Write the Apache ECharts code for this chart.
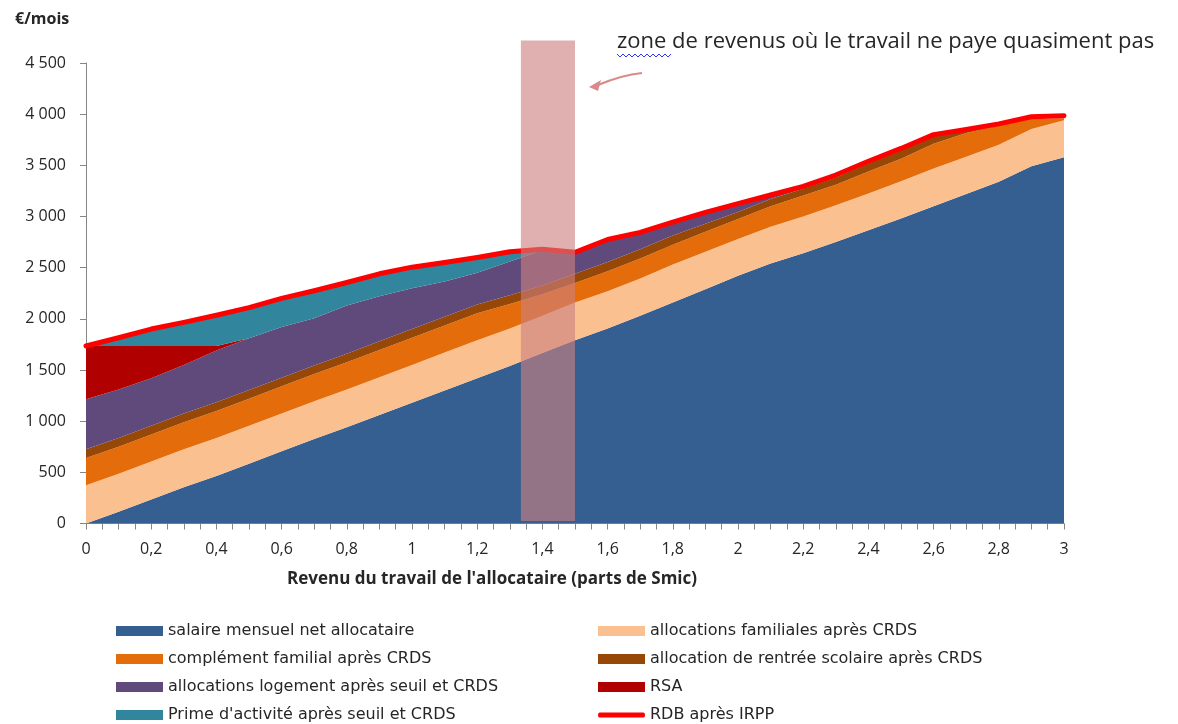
<!DOCTYPE html>
<html>
<head>
<meta charset="utf-8">
<script src="https://cdn.jsdelivr.net/npm/echarts@6/dist/echarts.min.js"></script>
<style>
html,body{margin:0;padding:0;background:#fff;}
#chart{width:1178px;height:724px;}
</style>
</head>
<body>
<div id="chart"></div>
<script>
// Revenu du travail (parts de Smic)
const revenu = [0,0.1,0.2,0.3,0.4,0.5,0.6,0.7,0.8,0.9,1.0,1.1,1.2,1.3,1.4,1.5,1.6,1.7,1.8,1.9,2.0,2.1,2.2,2.3,2.4,2.5,2.6,2.7,2.8,2.9,3.0];
const salaire   = [0,115,235,355,465,585,705,825,940,1060,1180,1300,1420,1540,1665,1790,1905,2030,2160,2290,2420,2540,2640,2750,2865,2980,3100,3220,3340,3490,3580];
const allocFam  = [375,370,370,370,370,370,370,370,370,370,370,370,370,365,365,370,365,365,370,365,360,360,360,360,360,365,370,365,360,365,360];
const complFam  = [265,265,265,265,265,265,265,265,265,265,265,265,265,240,210,190,195,195,195,195,195,200,205,200,215,220,240,230,190,100,20];
const ars       = [85,85,85,85,85,85,85,85,85,85,85,85,85,85,85,90,90,90,90,80,70,70,65,70,80,80,80,40,0,0,0];
const logement  = [490,475,465,475,505,505,495,460,470,440,400,345,310,330,345,200,205,150,115,95,65,25,10,0,0,0,0,0,0,0,0];
const rsa       = [520,425,315,185,45,0,0,0,0,0,0,0,0,0,0,0,0,0,0,0,0,0,0,0,0,0,0,0,0,0,0];
const prime     = [0,65,150,215,285,285,265,255,210,205,190,170,135,80,0,0,0,0,0,0,0,0,0,0,0,0,0,0,0,0,0];
const rdb       = [1735,1815,1900,1965,2035,2110,2200,2275,2355,2440,2505,2550,2600,2655,2680,2650,2775,2845,2945,3040,3125,3210,3295,3405,3540,3665,3800,3850,3905,3975,3985];

// shaded zone: [x start, x end, y bottom, y top]
const zone = [1.334, 1.5, 25, 4720];

const names = {
  salaire: 'salaire mensuel net allocataire',
  allocFam: 'allocations familiales après CRDS',
  complFam: 'complément familial après CRDS',
  ars: 'allocation de rentrée scolaire après CRDS',
  logement: 'allocations logement après seuil et CRDS',
  rsa: 'RSA',
  prime: "Prime d'activité après seuil et CRDS",
  rdb: 'RDB après IRPP'
};
const colors = {
  salaire: '#365f91', allocFam: '#fac090', complFam: '#e46c0a', ars: '#974706',
  logement: '#604a7b', rsa: '#b00000', prime: '#31859c', rdb: '#ff0000'
};

// value first so that the stack is computed on the y dimension
function stackPairs(arr){ return revenu.map((x,i)=>[arr[i], x]); }
function areaSeries(key, arr){
  return {
    name: names[key], type: 'line', stack: 'total', data: stackPairs(arr),
    encode: {x: 1, y: 0},
    symbol: 'none', lineStyle: {width: 0}, areaStyle: {color: colors[key], opacity: 1},
    itemStyle: {color: colors[key]}, emphasis: {disabled: true}, silent: true, z: 2
  };
}

const FONT = '"Open Sans", sans-serif';
const chart = echarts.init(document.getElementById('chart'), null, {renderer: 'canvas'});

const legendCommon = {
  orient: 'vertical', top: 623, padding: 0, itemWidth: 47, itemHeight: 10, itemGap: 12,
  textStyle: {fontFamily: '"DejaVu Sans", sans-serif', fontSize: 16, color: '#262626', lineHeight: 16},
  selectedMode: false
};

chart.setOption({
  animation: false,
  backgroundColor: '#fff',
  grid: {left: 86, right: 114, top: 63, bottom: 200.5},
  xAxis: {
    type: 'value', min: 0, max: 3, interval: 0.2,
    axisLine: {show: true, lineStyle: {color: '#868686', width: 1}},
    axisTick: {show: true, length: 6, lineStyle: {color: '#868686'}},
    minorTick: {show: true, splitNumber: 4, length: 6, lineStyle: {color: '#868686'}},
    splitLine: {show: false},
    axisLabel: {
      margin: 18, fontFamily: FONT, fontSize: 16, color: '#262626',
      formatter: v => String(Math.round(v*10)/10).replace('.', ',')
    }
  },
  yAxis: {
    type: 'value', min: 0, max: 4500, interval: 500,
    axisLine: {show: true, lineStyle: {color: '#868686', width: 1}},
    axisTick: {show: true, length: 6, lineStyle: {color: '#868686'}},
    splitLine: {show: false},
    axisLabel: {
      margin: 20, fontFamily: FONT, fontSize: 16, color: '#262626',
      formatter: v => v >= 1000 ? Math.floor(v/1000) + ' ' + String(v%1000).padStart(3,'0') : String(v)
    }
  },
  legend: [
    Object.assign({left: 116, data: [
      {name: names.salaire, icon: 'rect'},
      {name: names.complFam, icon: 'rect'},
      {name: names.logement, icon: 'rect'},
      {name: names.prime, icon: 'rect'}
    ]}, legendCommon),
    Object.assign({left: 598, data: [
      {name: names.allocFam, icon: 'rect'},
      {name: names.ars, icon: 'rect'},
      {name: names.rsa, icon: 'rect'},
      {name: names.rdb, icon: 'path://M3,0 L91,0 A3,5 0 0 1 91,10 L3,10 A3,5 0 0 1 3,0 Z'}
    ]}, legendCommon)
  ],
  series: [
    areaSeries('salaire', salaire),
    areaSeries('allocFam', allocFam),
    areaSeries('complFam', complFam),
    areaSeries('ars', ars),
    areaSeries('logement', logement),
    areaSeries('rsa', rsa),
    areaSeries('prime', prime),
    {
      name: names.rdb, type: 'line', data: revenu.map((x,i)=>[x, rdb[i]]), symbol: 'none',
      lineStyle: {color: colors.rdb, width: 5, join: 'round', cap: 'round'}, itemStyle: {color: colors.rdb},
      emphasis: {disabled: true}, silent: true, z: 3
    },
    {
      name: 'zone', type: 'custom', clip: false, z: 10, silent: true,
      data: [zone],
      encode: {x: [0, 1], y: [2, 3]},
      renderItem: function (params, api) {
        const p0 = api.coord([api.value(0), api.value(3)]);
        const p1 = api.coord([api.value(1), api.value(2)]);
        return {
          type: 'rect',
          shape: {x: p0[0], y: p0[1], width: p1[0] - p0[0], height: p1[1] - p0[1]},
          style: {fill: 'rgba(205,128,128,0.62)'}
        };
      }
    }
  ],
  graphic: [
    {type: 'text', left: 15, top: 11, style: {text: '€/mois', font: 'bold 16px ' + FONT, fill: '#262626'}},
    {type: 'text', left: 287, top: 571, style: {text: "Revenu du travail de l'allocataire (parts de Smic)", font: 'bold 17px ' + FONT, fill: '#262626'}},
    {type: 'text', left: 617, top: 31, style: {text: 'zone de revenus où le travail ne paye quasiment pas', font: '22px ' + FONT, fill: '#262626'}},
    {type: 'polyline', shape: {points: [[617,54],[620,57],[623,54],[626,57],[629,54],[632,57],[635,54],[638,57],[641,54],[644,57],[647,54],[650,57],[653,54],[656,57],[659,54],[662,57],[665,54],[668,57],[671,54]]},
      style: {stroke: '#3333ff', lineWidth: 1, fill: null}},
    {type: 'bezierCurve', shape: {x1: 642, y1: 73, x2: 598, y2: 85, cpx1: 622, cpy1: 75},
      style: {stroke: '#d98a8a', lineWidth: 2, fill: null}},
    {type: 'polygon', shape: {points: [[589,87],[601,80],[598,91]]}, style: {fill: '#d98a8a'}}
  ]
});
</script>
</body>
</html>
